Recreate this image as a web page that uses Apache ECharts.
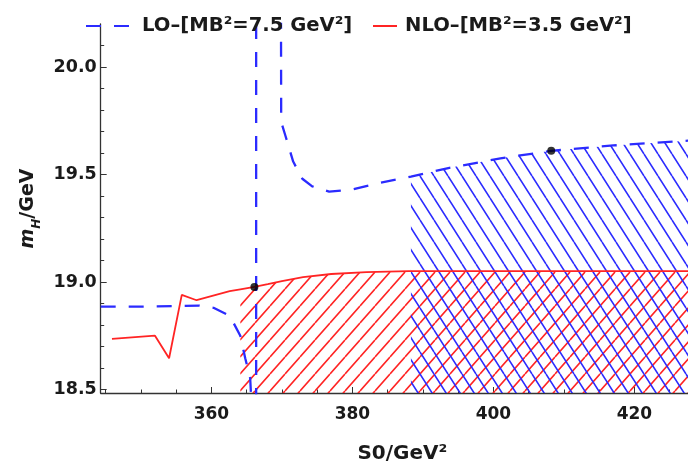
<!DOCTYPE html>
<html>
<head>
<meta charset="utf-8">
<script src="https://cdn.jsdelivr.net/npm/echarts@6/dist/echarts.min.js"></script>
<style>
html, body { margin: 0; padding: 0; background: #fff; }
#chart { width: 688px; height: 469px; }
</style>
</head>
<body>
<div id="chart"></div>
<script>
// LO, MB^2 = 7.5 GeV^2 (blue dashed); the pole near S0 = 366..370 runs off the frame
var loS0 = [344.3, 350, 355, 358.3, 360.3, 362.6, 364.1, 364.8, 365.5, 365.9, 366.35, 366.35, 369.8, 369.9, 370.5, 371.6, 372.9, 374.3, 376.7, 380, 383.8, 388.3, 393.6, 401, 408.2, 417, 426.5, 428];
var loMH = [18.885, 18.885, 18.888, 18.89, 18.88, 18.843, 18.75, 18.645, 18.553, 18.3, 17.0, 21.5, 21.5, 19.745, 19.68, 19.56, 19.48, 19.445, 19.42, 19.43, 19.46, 19.49, 19.53, 19.575, 19.61, 19.635, 19.655, 19.658];

// NLO, MB^2 = 3.5 GeV^2 (red solid)
var nloS0 = [345.9, 352, 354, 355.8, 357.9, 362.6, 364.1, 366.1, 368, 370, 373, 377, 382, 388, 395, 405, 415, 428];
var nloMH = [18.735, 18.75, 18.645, 18.94, 18.915, 18.957, 18.966, 18.977, 18.99, 19.004, 19.023, 19.037, 19.046, 19.05, 19.05, 19.05, 19.05, 19.05];

// where the hatched windows start
var nloHatchFrom = 364.1;
var loHatchFrom = 388.3;

// chosen points
var dotS0 = [366.1, 408.2];
var dotMH = [18.977, 19.61];

var xMajor = [360, 380, 400, 420];
var xMinor = [345, 350, 355, 365, 370, 375, 385, 390, 395, 405, 410, 415, 425];
var yMajor = [18.5, 19.0, 19.5, 20.0];
var yMinor = [18.6, 18.7, 18.8, 18.9, 19.1, 19.2, 19.3, 19.4, 19.6, 19.7, 19.8, 19.9, 20.1];

var FONT = 'DejaVu Sans';
var BLUE = '#2b2bff';
var RED = '#ff2424';
var AXIS = '#333';
var TEXT = '#1a1a1a';

function pairs(xs, ys, from) {
    var out = [];
    for (var i = 0; i < xs.length; i++) {
        if (from === undefined || xs[i] >= from) out.push([xs[i], ys[i]]);
    }
    return out;
}

// diagonal hatch tile, dir 1 = "/", dir -1 = "\"
function hatch(color, w, h, dir) {
    var c = document.createElement('canvas');
    c.width = w;
    c.height = h;
    var g = c.getContext('2d');
    g.strokeStyle = color;
    g.lineWidth = 1.6;
    g.beginPath();
    for (var i = -2; i <= 2; i++) {
        if (dir > 0) {
            g.moveTo(i * w, h);
            g.lineTo((i + 1) * w, 0);
        } else {
            g.moveTo(i * w, 0);
            g.lineTo((i + 1) * w, h);
        }
    }
    g.stroke();
    return c;
}

var chart = echarts.init(document.getElementById('chart'));

var tickLabel = { fontFamily: FONT, fontWeight: 'bold', color: TEXT };
var legendText = { fontFamily: FONT, fontWeight: 'bold', fontSize: 19.6, color: TEXT };

var option = {
    animation: false,
    backgroundColor: '#fff',
    grid: { left: 100.7, top: 24, right: 0, bottom: 70.7 },
    legend: [{
        left: 80, top: 11,
        itemWidth: 43, itemHeight: 14,
        itemStyle: { opacity: 0 },
        data: ['LO'],
        formatter: function () { return 'LO\u2013[MB\u00b2=7.5 GeV\u00b2]'; },
        textStyle: Object.assign({ padding: [0, 0, 0, 8] }, legendText)
    }, {
        left: 367, top: 11,
        itemWidth: 24, itemHeight: 14,
        itemStyle: { opacity: 0 },
        data: ['NLO'],
        formatter: function () { return 'NLO\u2013[MB\u00b2=3.5 GeV\u00b2]'; },
        textStyle: Object.assign({ padding: [0, 0, 0, 3] }, legendText)
    }],
    xAxis: [{
        type: 'value', min: 344.3, max: 427.6,
        name: 'S0/GeV\u00b2', nameLocation: 'middle', nameGap: 51,
        nameTextStyle: { fontFamily: FONT, fontWeight: 'bold', fontSize: 20, color: TEXT, padding: [0, 0, 0, 16] },
        axisLine: { lineStyle: { color: AXIS, width: 1.3 } },
        axisTick: { inside: true, length: 6, customValues: xMajor, lineStyle: { color: AXIS } },
        axisLabel: Object.assign({ fontSize: 17, margin: 13, customValues: xMajor }, tickLabel),
        splitLine: { show: false }
    }, {
        type: 'value', min: 344.3, max: 427.6, position: 'bottom',
        axisLine: { show: false },
        axisTick: { inside: true, length: 3.5, customValues: xMinor, lineStyle: { color: AXIS } },
        axisLabel: { show: false },
        splitLine: { show: false }
    }],
    yAxis: [{
        type: 'value', min: 18.4835, max: 20.2,
        name: '{i|m}{s|H}{t|/GeV}', nameLocation: 'middle', nameGap: 58, nameRotate: 90,
        nameTextStyle: {
            rich: {
                i: { fontFamily: FONT, fontSize: 19, fontWeight: 'bold', fontStyle: 'italic', color: TEXT, verticalAlign: 'bottom', padding: [0, 0, 5, 0] },
                s: { fontFamily: FONT, fontSize: 12, fontWeight: 'bold', fontStyle: 'italic', color: TEXT, verticalAlign: 'bottom' },
                t: { fontFamily: FONT, fontSize: 19, fontWeight: 'bold', color: TEXT, verticalAlign: 'bottom', padding: [0, 0, 5, 0] }
            }
        },
        axisLine: { show: true, lineStyle: { color: AXIS, width: 1.3 } },
        axisTick: { show: true, inside: true, length: 6, customValues: yMajor, lineStyle: { color: AXIS } },
        axisLabel: Object.assign({
            fontSize: 17.5, margin: 4, customValues: yMajor,
            formatter: function (v) { return v.toFixed(1); }
        }, tickLabel),
        splitLine: { show: false }
    }, {
        type: 'value', min: 18.4835, max: 20.2, position: 'left',
        axisLine: { show: false },
        axisTick: { show: true, inside: true, length: 3.5, customValues: yMinor, lineStyle: { color: AXIS } },
        axisLabel: { show: false },
        splitLine: { show: false }
    }],
    series: [{
        name: 'nloBand', type: 'line', silent: true, z: 1,
        data: pairs(nloS0, nloMH, nloHatchFrom),
        symbol: 'none', lineStyle: { width: 0 },
        areaStyle: { color: { image: hatch(RED, 15, 17, 1), repeat: 'repeat' }, opacity: 1 }
    }, {
        name: 'loBand', type: 'line', silent: true, z: 1,
        data: pairs(loS0, loMH, loHatchFrom),
        symbol: 'none', lineStyle: { width: 0 },
        areaStyle: { color: { image: hatch(BLUE, 14, 22, -1), repeat: 'repeat' }, opacity: 1 }
    }, {
        name: 'LO', type: 'line', z: 3,
        data: pairs(loS0, loMH),
        symbol: 'none', color: BLUE,
        lineStyle: { color: BLUE, width: 2.3, type: [15, 13] }
    }, {
        name: 'NLO', type: 'line', z: 3,
        data: pairs(nloS0, nloMH),
        symbol: 'none', color: RED,
        lineStyle: { color: RED, width: 1.8 }
    }, {
        name: 'dots', type: 'scatter', z: 5,
        data: pairs(dotS0, dotMH),
        symbolSize: 8, itemStyle: { color: '#000' }
    }]
};
chart.setOption(option);
</script>
</body>
</html>
